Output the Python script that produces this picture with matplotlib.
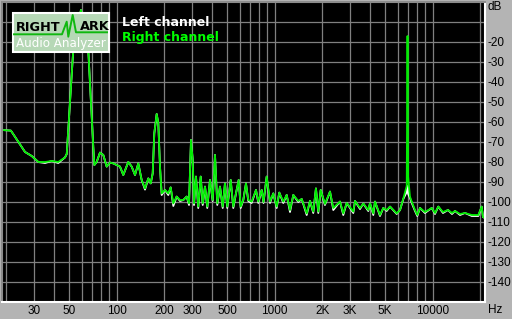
import matplotlib
matplotlib.use('Agg')
import matplotlib.pyplot as plt
from matplotlib.ticker import FixedLocator, NullFormatter
from matplotlib.patches import Rectangle

# spectrum (Hz, dB)
freq_hz = [18.8, 21.4, 26.3, 29.0, 31.9, 35.2, 38.8, 42.7, 47.1, 48.3,
           53.1, 59.4, 66.1, 71.1, 72.2, 74.7, 78.4, 82.3, 86.4, 90.7,
           95.2, 100, 104.9, 110.1, 118.4, 124.4, 130.6, 137.0, 143.9, 151.1,
           158.5, 164.2, 169.0, 173.0, 179.1, 183.4, 188.0, 192.6, 202.2, 212.1,
           219.6, 228.2, 239.7, 251.6, 264.1, 277.3, 286.9, 295.3, 302.8, 308.5,
           317.6, 328.3, 340.2, 350.3, 362.2, 374.4, 389.5, 405.2, 419.0, 433.2,
           450.6, 468.8, 484.5, 501.0, 526.8, 547.0, 568.8, 591.6, 609.4, 632.8,
           658.1, 680.3, 714.8, 761.5, 787.4, 827.5, 849.5, 889.6, 933.6, 979.8,
           1029.6, 1069.3, 1133.3, 1191, 1250, 1311.6, 1410.4, 1482.7, 1594.4, 1672.9,
           1754.4, 1824.2, 1888, 1955, 2080, 2239, 2349, 2589, 2717, 2856,
           3144, 3222, 3467, 3638, 3910, 4010, 4208, 4315, 4638, 4867,
           5114, 5369, 5918, 6212, 6518, 6850, 6927, 6990, 7180, 7366,
           7727, 7989, 8313, 8935, 9863, 10342, 10849, 11617, 12500, 13247,
           13841, 14890, 15998, 17659, 19443, 20418, 20810, 21430]

right_db = [-64, -64.3, -75, -77, -80, -80, -79.5, -80, -77.7, -76,
            -24, -4, -24, -72.5, -81.5, -80, -75.3, -76.5, -82.3, -80.3,
            -80.7, -81.5, -82.3, -86.5, -80, -82.3, -86.5, -80.7, -89, -93.2,
            -88.2, -90.7, -85.7, -65.7, -56, -60.7, -82.3, -95.7, -94, -95.7,
            -92.7, -100.7, -97.3, -99, -99, -97.3, -100.7, -69, -79, -100.7,
            -87.3, -102.3, -87.3, -100.7, -92.3, -102.3, -89, -99, -76.5, -100.7,
            -92.3, -102.3, -90.7, -102.3, -89, -102.3, -95.7, -89, -102.3, -99,
            -90.7, -99, -99.8, -94, -99.8, -94, -100, -87.3, -99.8, -95.7,
            -102.3, -95.3, -99.8, -96.5, -104, -96.5, -99.5, -98.5, -105.7, -99.5,
            -104.8, -93.2, -104.8, -94, -101, -94.8, -103, -99.8, -105.7, -100.5,
            -104.8, -99.5, -103, -100.8, -104, -100.7, -105.7, -99.8, -106.5, -103,
            -104, -102.3, -105.7, -104, -98.2, -92, -17, -87.3, -97.3, -99.8,
            -104, -106.5, -103, -105, -103, -105.5, -102.3, -105, -104, -105.5,
            -104.5, -106, -105.5, -106.5, -106.5, -102.3, -107.5, -108]

left_db = [-64, -64.3, -75, -77, -80, -80.5, -79.5, -80.5, -77.7, -76,
           -24, -4, -24, -72.5, -81.5, -80, -75.3, -76.5, -82.3, -80.3,
           -80.7, -81.5, -82.3, -86.5, -80, -82.3, -86.5, -80.7, -89, -93.8,
           -88.2, -90.7, -85.7, -65.7, -56, -60.7, -82.3, -96.5, -94, -96.5,
           -92.7, -102, -97.3, -99.5, -99, -97.3, -101.5, -69, -79, -101.5,
           -87.3, -103, -87.3, -101.5, -92.3, -103, -89, -99.5, -76.5, -101.5,
           -92.3, -103, -90.7, -103, -89, -103, -95.7, -89, -103, -99,
           -90.7, -99.5, -100.5, -94, -100.5, -94, -100.5, -87.3, -100.5, -95.7,
           -103, -95.3, -100.5, -96.5, -105, -96.5, -100, -98.5, -106.5, -99.5,
           -105.5, -93.2, -105.5, -94, -101.5, -94.8, -104, -99.8, -106.5, -100.5,
           -105.5, -99.5, -103.5, -100.8, -104.5, -100.7, -106.5, -99.8, -107, -103,
           -104.5, -102.3, -106, -104, -98.5, -95, -92, -96, -98, -100.5,
           -104.5, -107, -103, -105.5, -103, -106, -102.3, -105.5, -104, -106,
           -104.5, -106.5, -105.5, -107, -107, -102.3, -107.5, -108]

x_ticks = [30, 50, 100, 200, 300, 500, 1000, 2000, 3000, 5000, 10000]
x_labels = ['30', '50', '100', '200', '300', '500', '1000', '2K', '3K', '5K', '10000']
y_ticks = [-10, -20, -30, -40, -50, -60, -70, -80, -90, -100, -110, -120, -130, -140]

W, H = 512, 319
bg = '#b4b4b4'
fig = plt.figure(figsize=(W / 100, H / 100), dpi=100, facecolor=bg)
ax = fig.add_axes([2 / W, 17 / H, 483 / W, 300 / H], facecolor='black')
ax.set_xscale('log')
ax.set_xlim(18.8, 21430)
ax.set_ylim(-150, 0)

# grid at every 1..9 step of each decade
grid_f = []
for dec in [10, 100, 1000, 10000]:
    for m in range(1, 10):
        if 18.8 < dec * m < 21430:
            grid_f.append(dec * m)

ax.xaxis.set_major_locator(FixedLocator(x_ticks))
ax.set_xticklabels(x_labels)
ax.xaxis.set_minor_locator(FixedLocator(grid_f))
ax.xaxis.set_minor_formatter(NullFormatter())
ax.yaxis.tick_right()
ax.set_yticks(y_ticks)
ax.set_yticklabels(['' if v == -10 else str(v) for v in y_ticks])
ax.grid(which='both', color='#808080', lw=0.9)
ax.set_axisbelow(True)
ax.tick_params(which='both', length=0)
ax.tick_params(axis='x', pad=2.5, labelsize=8.5)
ax.tick_params(axis='y', pad=2, labelsize=8.5)
for lab in ax.get_xticklabels() + ax.get_yticklabels():
    lab.set_fontfamily('Liberation Sans')

for s in ['top', 'left']:
    ax.spines[s].set_color('#8c8c8c')
for s in ['bottom', 'right']:
    ax.spines[s].set_color('white')
for s in ax.spines.values():
    s.set_linewidth(1.5)

ax.plot(freq_hz, left_db, color='white', lw=1.3)
ax.plot(freq_hz, right_db, color='#00ee00', lw=1.3)

# overlay in pixel coordinates for logo and legend
ov = fig.add_axes([0, 0, 1, 1])
ov.set_xlim(0, W)
ov.set_ylim(H, 0)
ov.axis('off')
ov.patch.set_alpha(0)

ov.add_patch(Rectangle((12.5, 12.5), 96.5, 39.5, fc='#b6d8b6', ec='white', lw=1.5))
ov.plot([14, 62, 66.7, 68.3, 72.7, 76, 107],
        [34.3, 34.3, 21.7, 36.7, 15, 32.3, 32.3], color='#10b810', lw=1.4)
ov.text(15.5, 27.5, 'RIGHT', color='black', fontsize=9.3, fontweight='bold',
        family='DejaVu Sans', va='center', ha='left')
ov.text(79.5, 26, 'ARK', color='black', fontsize=9.3, fontweight='bold',
        family='DejaVu Sans', va='center', ha='left')
ov.text(61, 43.5, 'Audio Analyzer', color='white', fontsize=8.6,
        family='DejaVu Sans', va='center', ha='center')

ov.text(122.5, 22, 'Left channel', color='white', fontsize=9, fontweight='bold',
        family='DejaVu Sans', va='center', ha='left')
ov.text(122.5, 38, 'Right channel', color='#00ff00', fontsize=9, fontweight='bold',
        family='DejaVu Sans', va='center', ha='left')

ov.text(488, 7.5, 'dB', color='black', fontsize=8.5, family='Liberation Sans',
        va='center', ha='left')
ov.text(488, 310, 'Hz', color='black', fontsize=8.5, family='Liberation Sans',
        va='center', ha='left')

fig.savefig('out.png', dpi=100, facecolor=bg)
